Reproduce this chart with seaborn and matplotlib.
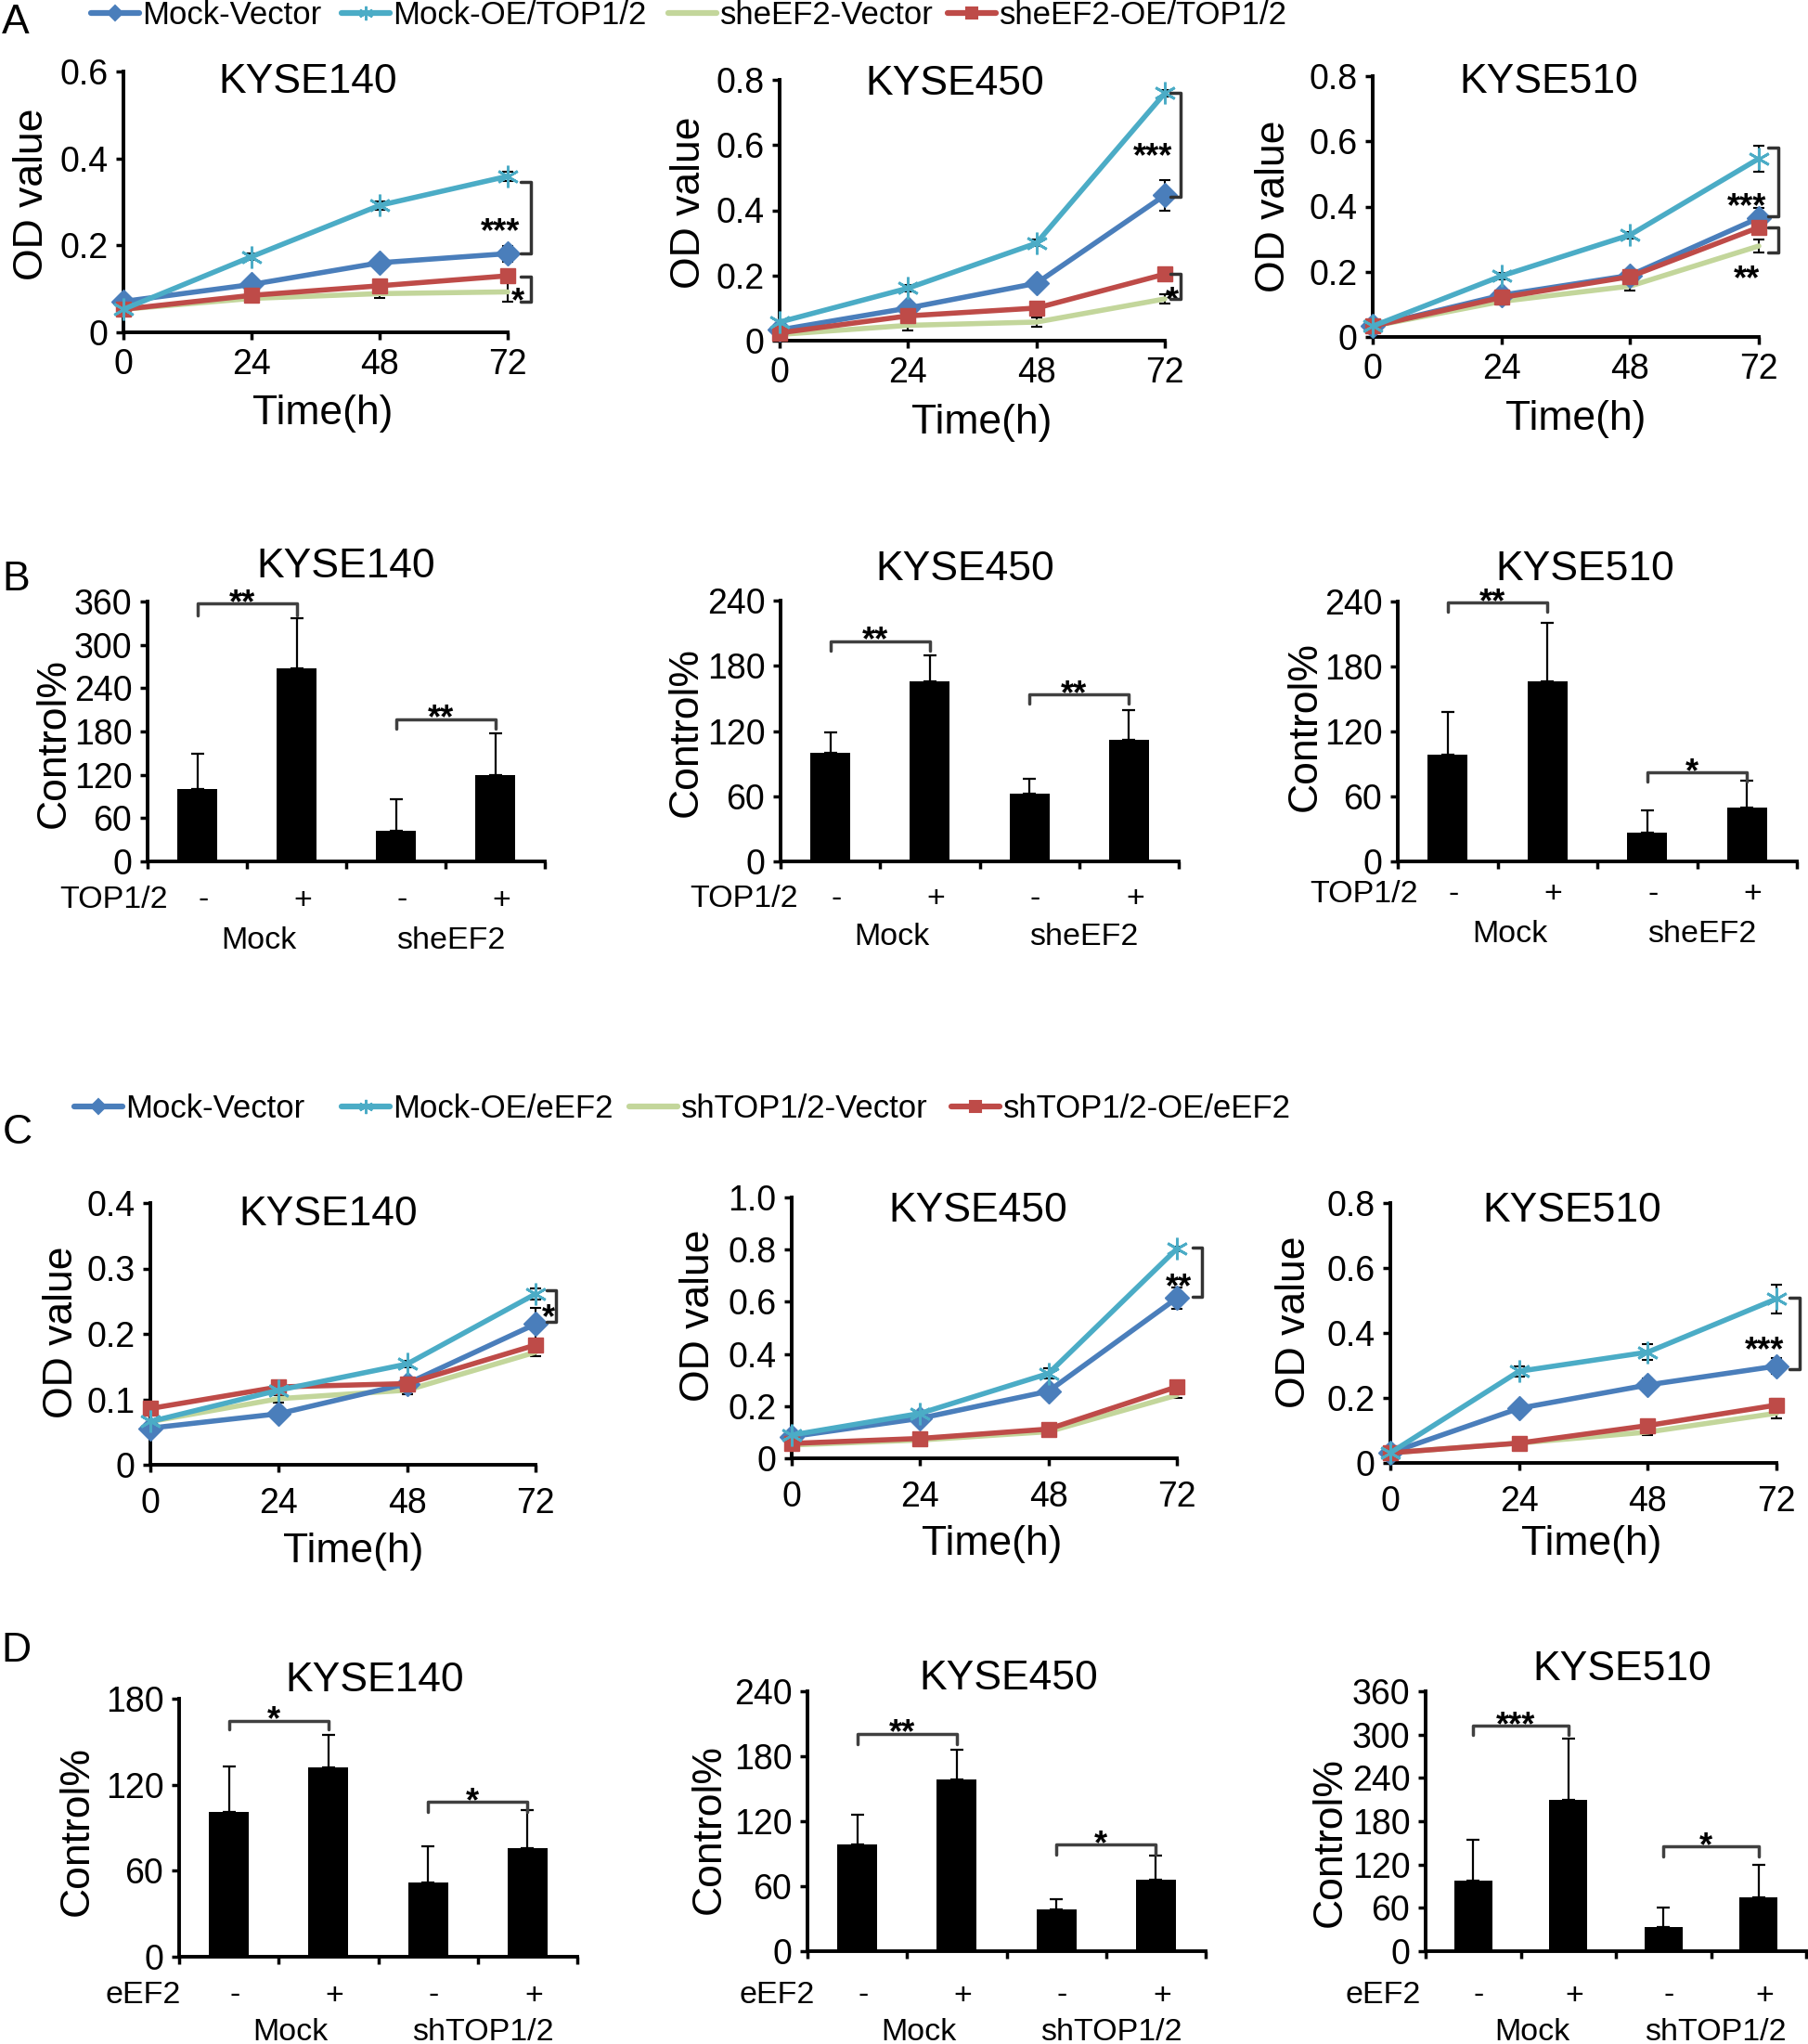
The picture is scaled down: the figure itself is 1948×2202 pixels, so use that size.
import numpy as np
import pandas as pd
import matplotlib
matplotlib.use("Agg")
import matplotlib.pyplot as plt
import matplotlib.transforms as mtrans
from matplotlib.lines import Line2D
import seaborn as sns

# ---------------- data ----------------
hours = [0, 24, 48, 72]
cells = ["KYSE140", "KYSE450", "KYSE510"]
series_ab = ["Mock-Vector", "Mock-OE/TOP1/2", "sheEF2-Vector", "sheEF2-OE/TOP1/2"]
series_cd = ["Mock-Vector", "Mock-OE/eEF2", "shTOP1/2-Vector", "shTOP1/2-OE/eEF2"]

# OD values, rows follow the series order
od_a140 = [[0.071, 0.110, 0.160, 0.181],
           [0.053, 0.174, 0.292, 0.359],
           [0.053, 0.078, 0.089, 0.093],
           [0.053, 0.085, 0.107, 0.130]]
err_a140 = [[0.004, 0.006, 0.008, 0.018],
            [0.004, 0.008, 0.010, 0.010],
            [0.003, 0.005, 0.010, 0.022],
            [0.003, 0.005, 0.006, 0.008]]
od_a450 = [[0.033, 0.100, 0.176, 0.446],
           [0.057, 0.161, 0.299, 0.759],
           [0.019, 0.047, 0.057, 0.128],
           [0.024, 0.076, 0.100, 0.204]]
err_a450 = [[0.005, 0.010, 0.010, 0.047],
            [0.005, 0.010, 0.010, 0.010],
            [0.003, 0.015, 0.015, 0.015],
            [0.003, 0.005, 0.008, 0.010]]
od_a510 = [[0.033, 0.128, 0.189, 0.365],
           [0.033, 0.187, 0.313, 0.547],
           [0.033, 0.109, 0.156, 0.279],
           [0.033, 0.121, 0.185, 0.336]]
err_a510 = [[0.005, 0.010, 0.010, 0.030],
            [0.005, 0.010, 0.010, 0.040],
            [0.003, 0.010, 0.015, 0.020],
            [0.003, 0.010, 0.010, 0.020]]
od_c140 = [[0.056, 0.078, 0.124, 0.215],
           [0.066, 0.114, 0.154, 0.261],
           [0.066, 0.101, 0.114, 0.172],
           [0.086, 0.119, 0.124, 0.183]]
err_c140 = [[0.004, 0.005, 0.005, 0.025],
            [0.004, 0.005, 0.005, 0.008],
            [0.003, 0.006, 0.006, 0.006],
            [0.004, 0.005, 0.005, 0.005]]
od_c450 = [[0.083, 0.153, 0.257, 0.614],
           [0.089, 0.172, 0.325, 0.803],
           [0.051, 0.070, 0.102, 0.242],
           [0.057, 0.076, 0.112, 0.274]]
err_c450 = [[0.010, 0.010, 0.010, 0.042],
            [0.010, 0.010, 0.020, 0.010],
            [0.005, 0.005, 0.005, 0.010],
            [0.005, 0.005, 0.005, 0.010]]
od_c510 = [[0.031, 0.168, 0.240, 0.298],
           [0.031, 0.282, 0.341, 0.505],
           [0.031, 0.061, 0.095, 0.153],
           [0.031, 0.061, 0.115, 0.178]]
err_c510 = [[0.005, 0.010, 0.020, 0.025],
            [0.005, 0.015, 0.025, 0.045],
            [0.005, 0.005, 0.010, 0.015],
            [0.005, 0.005, 0.010, 0.020]]

# significance: brackets (x, y_top, y_bottom) and stars (x, y, text)
brk_a140 = [(76.3, 0.345, 0.181), (76.3, 0.128, 0.071)]
star_a140 = [(70.6, 0.253, "***"), (73.9, 0.093, "*")]
brk_a450 = [(74.9, 0.759, 0.441), (74.9, 0.204, 0.128)]
star_a450 = [(69.8, 0.593, "***"), (73.4, 0.152, "*")]
brk_a510 = [(75.6, 0.580, 0.369), (75.6, 0.336, 0.260)]
star_a510 = [(69.7, 0.430, "***"), (69.8, 0.208, "**")]
brk_c140 = [(75.8, 0.266, 0.218)]
star_c140 = [(74.4, 0.240, "*")]
brk_c450 = [(76.7, 0.809, 0.618)]
star_c450 = [(72.4, 0.694, "**")]
brk_c510 = [(76.3, 0.510, 0.290)]
star_c510 = [(69.8, 0.377, "***")]

# bar charts (Control%)
bar_cats = ["ctl-", "ctl+", "sh-", "sh+"]
signs = ["-", "+", "-", "+"]
groups_b = ["Mock", "sheEF2"]
groups_d = ["Mock", "shTOP1/2"]
bar_b140 = [100, 268, 43, 119]
bar_err_b140 = [49, 69, 43, 58]
bar_b450 = [100, 166, 62, 112]
bar_err_b450 = [19, 24, 14, 27]
bar_b510 = [99, 166, 27, 50]
bar_err_b510 = [39, 54, 20, 25]
bar_d140 = [101, 132, 52, 76]
bar_err_d140 = [32, 23, 25, 26]
bar_d450 = [99, 159, 39, 66]
bar_err_d450 = [27, 27, 9, 22]
bar_d510 = [98, 210, 33, 75]
bar_err_d510 = [56, 84, 28, 45]
# bar brackets (left bar, right bar, y, leg end, text)
bsig_b140 = [(0, 1, 357, 341, "**"), (2, 3, 197, 184, "**")]
bsig_b450 = [(0, 1, 202.6, 194.3, "**"), (2, 3, 153.5, 145, "**")]
bsig_b510 = [(0, 1, 239, 230.6, "**"), (2, 3, 82.3, 73.4, "*")]
bsig_d140 = [(0, 1, 164.6, 158.6, "*"), (2, 3, 108.2, 100.7, "*")]
bsig_d450 = [(0, 1, 200.9, 191.4, "**"), (2, 3, 98.6, 89.4, "*")]
bsig_d510 = [(0, 1, 312, 299, "***"), (2, 3, 144.9, 131.6, "*")]

yt_a140 = [0, 0.2, 0.4, 0.6]
yl_a140 = ["0", "0.2", "0.4", "0.6"]
yt_08 = [0, 0.2, 0.4, 0.6, 0.8]
yl_08 = ["0", "0.2", "0.4", "0.6", "0.8"]
yt_c140 = [0, 0.1, 0.2, 0.3, 0.4]
yl_c140 = ["0", "0.1", "0.2", "0.3", "0.4"]
yt_c450 = [0, 0.2, 0.4, 0.6, 0.8, 1.0]
yl_c450 = ["0", "0.2", "0.4", "0.6", "0.8", "1.0"]
yt_360 = [0, 60, 120, 180, 240, 300, 360]
yt_240 = [0, 60, 120, 180, 240]
yt_180 = [0, 60, 120, 180]

# ---------------- style ----------------
sns.set_style("ticks")
plt.rcParams["font.family"] = ["Liberation Sans", "DejaVu Sans"]
plt.rcParams.update({"text.color": "black", "axes.edgecolor": "black",
                     "axes.labelcolor": "black", "xtick.color": "black",
                     "ytick.color": "black"})

colors = ["#4A7EBB", "#4BACC6", "#C3D69B", "#BE4B48"]
markers = ["D", (6, 2, 0), "", "s"]
msizes = [13, 17, 0, 12]
mews = [1, 2, 0, 1]
zorders = [3, 5, 2, 4]

W, H = 1948, 2202
fig = plt.figure(figsize=(W / 100, H / 100), dpi=100)

FS_TICK = 27
FS_TITLE = 32
FS_LABEL = 32
FS_SMALL = 24.5
FS_STAR = 26


def px_axes(box):
    l, t, r, b = box
    return fig.add_axes([l / W, 1 - b / H, (r - l) / W, (b - t) / H])


def ptext(x, y, s, **kw):
    kw.setdefault("ha", "center")
    kw.setdefault("va", "center")
    fig.text(x / W, 1 - y / H, s, color="black", **kw)


def style_axes(ax, xpad):
    sns.despine(ax=ax)
    for sp in ["left", "bottom"]:
        ax.spines[sp].set_linewidth(2.8)
        ax.spines[sp].set_color("black")
    ax.tick_params(axis="both", direction="out", length=6, width=2.5,
                   labelsize=FS_TICK, colors="black")
    ax.tick_params(axis="y", pad=6)
    ax.tick_params(axis="x", pad=xpad)
    ax.set_xlabel("")
    ax.set_ylabel("")


def star_text(ax, x, y, s, dy=0):
    ax.annotate(s, (x, y), xytext=(0, dy - 0.58 * FS_STAR), textcoords="offset points",
                ha="center", va="baseline", fontsize=FS_STAR, fontweight="bold",
                color="black", annotation_clip=False)


def line_panel(box, vals, errs, yt, yl, brks, stars, title, title_xy, ylab_xy, xlab_xy, xpad):
    ax = px_axes(box)
    for i in [2, 0, 3, 1]:
        ax.errorbar(hours, vals[i], yerr=errs[i], fmt="none", ecolor="black",
                    elinewidth=1.5, capsize=4, capthick=1.5, zorder=1.5, clip_on=False)
        sns.lineplot(x=hours, y=vals[i], ax=ax, color=colors[i], lw=4,
                     marker=markers[i], markersize=msizes[i], markeredgecolor=colors[i],
                     markerfacecolor=colors[i], markeredgewidth=mews[i],
                     clip_on=False, zorder=zorders[i], legend=False)
    ax.set_xlim(0, 72)
    ax.set_ylim(0, yt[-1])
    ax.set_xticks(hours)
    ax.set_xticklabels([str(h) for h in hours])
    ax.set_yticks(yt)
    ax.set_yticklabels(yl)
    style_axes(ax, xpad)
    for x, y1, y2 in brks:
        ax.plot([x - 1.8, x, x, x - 1.8], [y1, y1, y2, y2], color="#333333", lw=2.5,
                clip_on=False, zorder=6)
    for x, y, s in stars:
        star_text(ax, x, y, s)
    ptext(*title_xy, title, fontsize=FS_TITLE)
    ptext(*ylab_xy, "OD value", fontsize=FS_LABEL, rotation=90)
    ptext(*xlab_xy, "Time(h)", fontsize=FS_LABEL)
    return ax


def bar_panel(box, vals, errs, yt, bsig, title, title_xy, ylab_xy, factor, groups,
              lab_x, sign_y, group_y):
    ax = px_axes(box)
    df = pd.DataFrame({"cat": bar_cats, "val": vals})
    sns.barplot(data=df, x="cat", y="val", order=bar_cats, color="black", saturation=1,
                width=0.4, ax=ax, errorbar=None, linewidth=0)
    ax.errorbar(range(4), vals, yerr=[np.zeros(4), errs], fmt="none", ecolor="black",
                elinewidth=1.6, capsize=5, capthick=1.6, zorder=3, clip_on=False)
    ax.set_xlim(-0.5, 3.5)
    ax.set_ylim(0, yt[-1])
    ax.set_xticks([-0.5, 0.5, 1.5, 2.5, 3.5])
    ax.set_xticklabels([])
    ax.set_yticks(yt)
    ax.set_yticklabels([str(v) for v in yt])
    style_axes(ax, 4)
    for i0, i1, y, leg, s in bsig:
        ax.plot([i0, i0, i1, i1], [leg, y, y, leg], color="#404040", lw=2.5,
                clip_on=False, zorder=4)
        star_text(ax, (i0 + i1) / 2 - 0.05, y, s, dy=8)
    trans = mtrans.blended_transform_factory(ax.transData, fig.transFigure)
    ax.text(lab_x, 1 - sign_y / H, factor, transform=trans, ha="right", va="center",
            fontsize=FS_SMALL, color="black", clip_on=False)
    for i, s in enumerate(signs):
        ax.text(i + 0.06, 1 - sign_y / H, s, transform=trans, ha="center", va="center",
                fontsize=FS_SMALL, color="black", clip_on=False)
    for gx, g in zip([0.62, 2.55], groups):
        ax.text(gx, 1 - group_y / H, g, transform=trans, ha="center", va="center",
                fontsize=FS_SMALL, color="black", clip_on=False)
    ptext(*title_xy, title, fontsize=FS_TITLE)
    ptext(*ylab_xy, "Control%", fontsize=FS_LABEL, rotation=90)
    return ax


# ---------------- panel A ----------------
line_panel((133, 77, 547, 358), od_a140, err_a140, yt_a140, yl_a140, brk_a140, star_a140,
           cells[0], (332, 88), (35, 209), (348, 446), 6)
line_panel((840, 86, 1255, 367), od_a450, err_a450, yt_08, yl_08, brk_a450, star_a450,
           cells[1], (1029, 90), (743, 218), (1058, 456), 6)
line_panel((1479, 82, 1895, 363), od_a510, err_a510, yt_08, yl_08, brk_a510, star_a510,
           cells[2], (1669, 88), (1372, 222), (1698, 451), 6)

# ---------------- panel B ----------------
bar_panel((159, 648, 587, 928), bar_b140, bar_err_b140, yt_360, bsig_b140, cells[0],
          (373, 610), (58, 800), "TOP1/2", groups_b, -0.3, 970, 1013)
bar_panel((841, 647, 1270, 928), bar_b450, bar_err_b450, yt_240, bsig_b450, cells[1],
          (1040, 613), (739, 788), "TOP1/2", groups_b, -0.32, 968, 1010)
bar_panel((1506, 648, 1936, 928), bar_b510, bar_err_b510, yt_240, bsig_b510, cells[2],
          (1708, 613), (1406, 783), "TOP1/2", groups_b, -0.3, 963, 1007)

# ---------------- panel C ----------------
line_panel((162, 1296, 577, 1578), od_c140, err_c140, yt_c140, yl_c140, brk_c140, star_c140,
           cells[0], (354, 1308), (66, 1435), (381, 1672), 11)
line_panel((853, 1290, 1268, 1571), od_c450, err_c450, yt_c450, yl_c450, brk_c450, star_c450,
           cells[1], (1054, 1305), (752, 1417), (1069, 1664), 11)
line_panel((1498, 1296, 1914, 1576), od_c510, err_c510, yt_08, yl_08, brk_c510, star_c510,
           cells[2], (1694, 1305), (1395, 1424), (1715, 1664), 11)

# ---------------- panel D ----------------
bar_panel((193, 1830, 622, 2108), bar_d140, bar_err_d140, yt_180, bsig_d140, cells[0],
          (404, 1810), (83, 1972), "eEF2", groups_d, -0.48, 2150, 2190)
bar_panel((870, 1822, 1299, 2102), bar_d450, bar_err_d450, yt_240, bsig_d450, cells[1],
          (1087, 1808), (764, 1971), "eEF2", groups_d, -0.43, 2150, 2190)
bar_panel((1536, 1822, 1946, 2102), bar_d510, bar_err_d510, yt_360, bsig_d510, cells[2],
          (1748, 1798), (1433, 1985), "eEF2", groups_d, -0.55, 2150, 2190)

# ---------------- legends (one entry each, placed like the original) ----------------
legend_ms = [8, 11, 0, 8]
legend_x_ab = [98, 368, 720, 1021]
legend_x_cd = [80, 368, 678, 1025]

for labels, xs, yc in [(series_ab, legend_x_ab, 17), (series_cd, legend_x_cd, 1195)]:
    for i in range(4):
        h = Line2D([], [], color=colors[i], lw=4.5, marker=markers[i],
                   markersize=legend_ms[i], markeredgecolor=colors[i],
                   markerfacecolor=colors[i], markeredgewidth=1.5)
        leg = fig.legend([h], [labels[i]], loc="center left",
                         bbox_to_anchor=(xs[i] / W, 1 - yc / H), frameon=False,
                         fontsize=25, handlelength=1.5, handletextpad=0.1,
                         borderpad=0, borderaxespad=0)
        for t in leg.get_texts():
            t.set_color("black")

# panel letters
for letter, x, y in [("A", 17, 25), ("B", 17, 624), ("C", 19, 1221), ("D", 17, 1778)]:
    ptext(x, y, letter, fontsize=32)

fig.savefig("out.png", dpi=100)
